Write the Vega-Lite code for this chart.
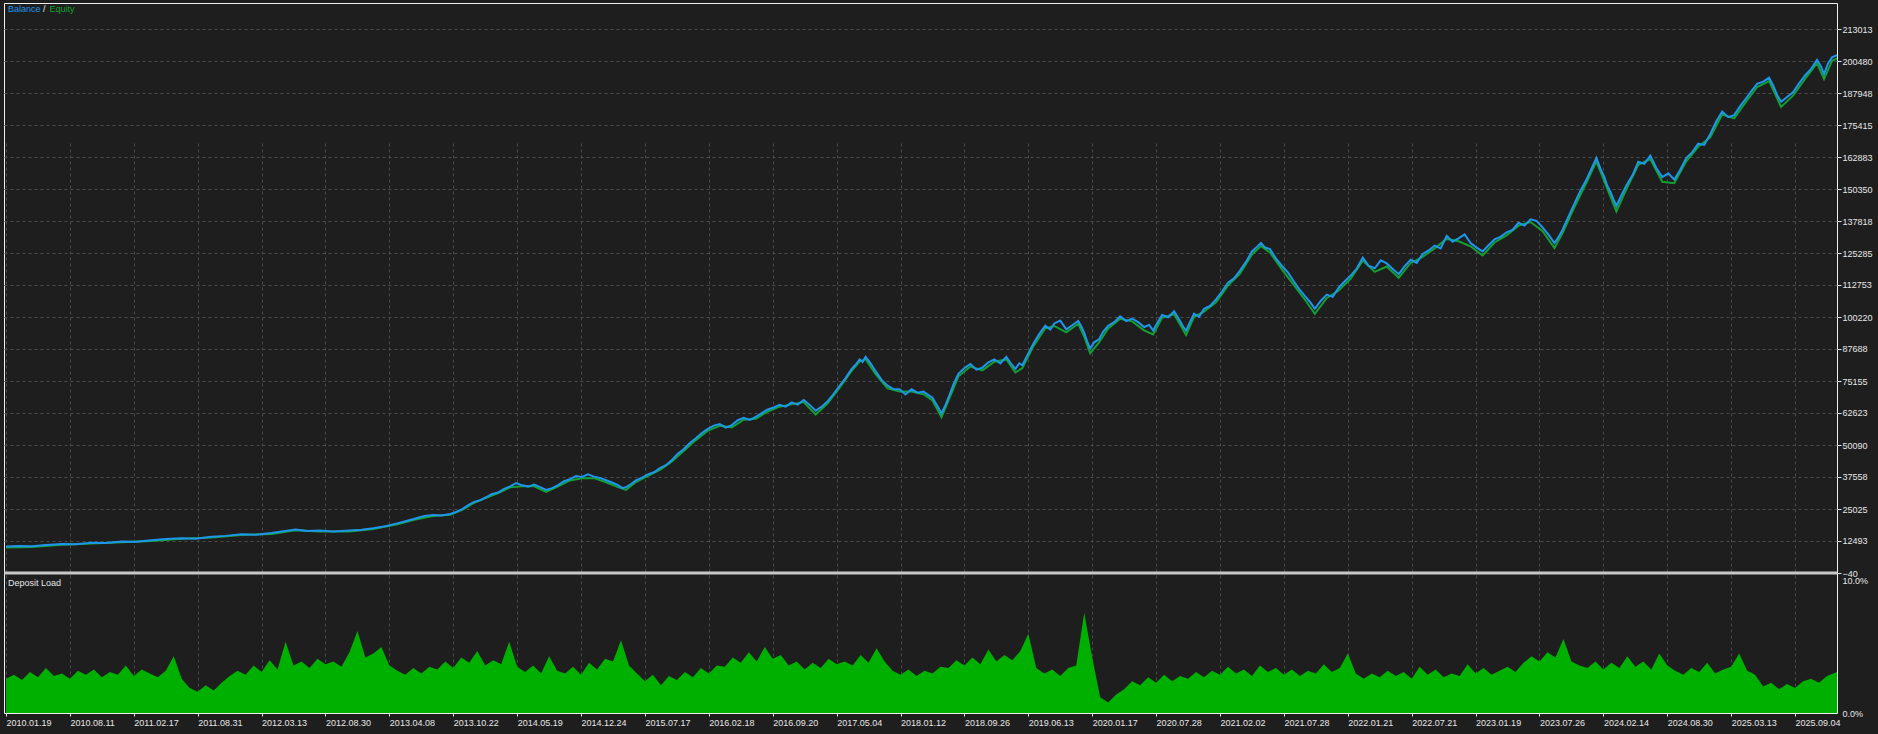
{
 "$schema": "https://vega.github.io/schema/vega-lite/v6.json",
 "width": 1878, "height": 734,
 "autosize": {"type": "fit", "contains": "padding"},
 "padding": {"left": 2, "top": 3, "right": 5, "bottom": 3},
 "background": "#1e1e1e",
 "config": {
  "view": {"stroke": "#f0f0f0", "strokeWidth": 1},
  "axis": {"domain": false, "labelFont": "Liberation Sans", "labelFontSize": 9, "labelColor": "#e6e6e6", "labelOverlap": false, "labelBound": false, "labelFlush": false}
 },
 "datasets": {
  "bal": [
   {"i":0,"b":10300},{"i":13,"b":10500},{"i":26,"b":10400},{"i":40,"b":10900},{"i":56,"b":11300},{"i":70,"b":11200},{"i":86,"b":11800},{"i":100,"b":11700},{"i":116,"b":12300},{"i":130,"b":12200},{"i":146,"b":12800},{"i":160,"b":13300},{"i":176,"b":13600},{"i":190,"b":13400},{"i":206,"b":14200},{"i":220,"b":14500},{"i":236,"b":15100},{"i":250,"b":14900},{"i":266,"b":15600},{"i":278,"b":16300},{"i":290,"b":17000},{"i":302,"b":16400},{"i":314,"b":16600},{"i":328,"b":16200},{"i":344,"b":16600},{"i":356,"b":16900},{"i":368,"b":17500},{"i":380,"b":18300},{"i":392,"b":19400},{"i":401,"b":20300},{"i":410,"b":21300},{"i":419,"b":22300},{"i":428,"b":22700},{"i":436,"b":22500},{"i":445,"b":23100},{"i":451,"b":23900},{"i":457,"b":25000},{"i":463,"b":26500},{"i":469,"b":27800},{"i":475,"b":28500},{"i":481,"b":29700},{"i":487,"b":30900},{"i":493,"b":31500},{"i":499,"b":32900},{"i":505,"b":33900},{"i":511,"b":35200},{"i":517,"b":34300},{"i":523,"b":33800},{"i":529,"b":34600},{"i":535,"b":33600},{"i":541,"b":32500},{"i":547,"b":33200},{"i":553,"b":34400},{"i":559,"b":35900},{"i":565,"b":36700},{"i":571,"b":37900},{"i":577,"b":37600},{"i":583,"b":38600},{"i":589,"b":37700},{"i":595,"b":37200},{"i":601,"b":36300},{"i":607,"b":35400},{"i":613,"b":34400},{"i":617,"b":33300},{"i":621,"b":33500},{"i":626,"b":34800},{"i":631,"b":36200},{"i":637,"b":37300},{"i":643,"b":38600},{"i":649,"b":39400},{"i":655,"b":41000},{"i":661,"b":42200},{"i":667,"b":44200},{"i":673,"b":46700},{"i":679,"b":48500},{"i":685,"b":50900},{"i":691,"b":52700},{"i":697,"b":54800},{"i":703,"b":56400},{"i":709,"b":57700},{"i":715,"b":58300},{"i":721,"b":56900},{"i":727,"b":57900},{"i":733,"b":59800},{"i":739,"b":60700},{"i":745,"b":59900},{"i":751,"b":61100},{"i":757,"b":62600},{"i":763,"b":64000},{"i":769,"b":64800},{"i":775,"b":65800},{"i":781,"b":65100},{"i":787,"b":66800},{"i":793,"b":65900},{"i":799,"b":67700},{"i":805,"b":65800},{"i":811,"b":63500},{"i":817,"b":65100},{"i":823,"b":67200},{"i":829,"b":70100},{"i":835,"b":73300},{"i":841,"b":76300},{"i":847,"b":79900},{"i":851,"b":81500},{"i":855,"b":83600},{"i":858,"b":82600},{"i":861,"b":84600},{"i":866,"b":82100},{"i":871,"b":79000},{"i":877,"b":75600},{"i":883,"b":73300},{"i":889,"b":72000},{"i":895,"b":71900},{"i":901,"b":69900},{"i":907,"b":71900},{"i":913,"b":70600},{"i":919,"b":71000},{"i":924,"b":69600},{"i":928,"b":68600},{"i":932,"b":66000},{"i":937,"b":62500},{"i":941,"b":65700},{"i":945,"b":69600},{"i":949,"b":73800},{"i":954,"b":78000},{"i":960,"b":80200},{"i":966,"b":81800},{"i":972,"b":79600},{"i":978,"b":80400},{"i":984,"b":82500},{"i":990,"b":83600},{"i":996,"b":82000},{"i":1002,"b":84600},{"i":1006,"b":82300},{"i":1011,"b":79900},{"i":1015,"b":82100},{"i":1018,"b":81300},{"i":1023,"b":85200},{"i":1029,"b":89700},{"i":1035,"b":93600},{"i":1041,"b":96800},{"i":1046,"b":95300},{"i":1050,"b":97700},{"i":1056,"b":98800},{"i":1062,"b":95400},{"i":1068,"b":97000},{"i":1074,"b":98700},{"i":1077,"b":96600},{"i":1080,"b":94000},{"i":1083,"b":90600},{"i":1086,"b":87900},{"i":1090,"b":90300},{"i":1095,"b":91600},{"i":1099,"b":94500},{"i":1104,"b":96800},{"i":1110,"b":98200},{"i":1116,"b":100500},{"i":1122,"b":98600},{"i":1128,"b":99600},{"i":1134,"b":98200},{"i":1140,"b":96300},{"i":1145,"b":97100},{"i":1149,"b":94900},{"i":1153,"b":97800},{"i":1158,"b":101000},{"i":1164,"b":100100},{"i":1170,"b":102400},{"i":1173,"b":100600},{"i":1176,"b":98700},{"i":1179,"b":96500},{"i":1182,"b":94900},{"i":1186,"b":98300},{"i":1190,"b":101500},{"i":1195,"b":100300},{"i":1200,"b":103400},{"i":1206,"b":104600},{"i":1212,"b":107100},{"i":1218,"b":110200},{"i":1224,"b":113700},{"i":1230,"b":115400},{"i":1236,"b":118400},{"i":1242,"b":121800},{"i":1248,"b":125900},{"i":1252,"b":127300},{"i":1257,"b":129200},{"i":1261,"b":127500},{"i":1266,"b":126800},{"i":1272,"b":123200},{"i":1278,"b":120200},{"i":1284,"b":117700},{"i":1290,"b":114100},{"i":1296,"b":110800},{"i":1302,"b":108000},{"i":1306,"b":106200},{"i":1311,"b":103400},{"i":1317,"b":106600},{"i":1323,"b":109000},{"i":1329,"b":108100},{"i":1335,"b":111800},{"i":1341,"b":114200},{"i":1347,"b":116500},{"i":1353,"b":119200},{"i":1359,"b":123500},{"i":1365,"b":120200},{"i":1371,"b":119300},{"i":1377,"b":122400},{"i":1383,"b":121200},{"i":1389,"b":119000},{"i":1395,"b":117000},{"i":1401,"b":120100},{"i":1407,"b":122600},{"i":1413,"b":121400},{"i":1419,"b":124900},{"i":1425,"b":126300},{"i":1431,"b":128200},{"i":1437,"b":127100},{"i":1443,"b":132000},{"i":1449,"b":129700},{"i":1455,"b":131000},{"i":1461,"b":132600},{"i":1467,"b":129200},{"i":1473,"b":127400},{"i":1479,"b":125900},{"i":1485,"b":128300},{"i":1491,"b":130600},{"i":1497,"b":131600},{"i":1503,"b":133400},{"i":1509,"b":134300},{"i":1515,"b":137100},{"i":1521,"b":136000},{"i":1527,"b":138500},{"i":1533,"b":137900},{"i":1539,"b":135300},{"i":1545,"b":132500},{"i":1551,"b":129200},{"i":1555,"b":131500},{"i":1559,"b":134300},{"i":1565,"b":139500},{"i":1571,"b":144600},{"i":1577,"b":149700},{"i":1583,"b":154000},{"i":1588,"b":158200},{"i":1593,"b":162500},{"i":1597,"b":158300},{"i":1601,"b":155000},{"i":1604,"b":151500},{"i":1607,"b":149300},{"i":1610,"b":146400},{"i":1613,"b":143700},{"i":1618,"b":147800},{"i":1623,"b":151700},{"i":1629,"b":155600},{"i":1635,"b":161000},{"i":1641,"b":160200},{"i":1647,"b":163400},{"i":1653,"b":158600},{"i":1659,"b":155000},{"i":1665,"b":156500},{"i":1671,"b":154000},{"i":1677,"b":157900},{"i":1683,"b":162500},{"i":1689,"b":164800},{"i":1695,"b":168100},{"i":1701,"b":167600},{"i":1707,"b":171800},{"i":1713,"b":176800},{"i":1719,"b":180700},{"i":1725,"b":178500},{"i":1731,"b":179300},{"i":1737,"b":182800},{"i":1743,"b":185900},{"i":1748,"b":188600},{"i":1754,"b":191500},{"i":1760,"b":192400},{"i":1766,"b":193900},{"i":1770,"b":190900},{"i":1774,"b":187200},{"i":1778,"b":184500},{"i":1784,"b":186400},{"i":1790,"b":188200},{"i":1796,"b":191700},{"i":1802,"b":194800},{"i":1808,"b":197400},{"i":1814,"b":200900},{"i":1818,"b":198300},{"i":1821,"b":195300},{"i":1825,"b":199500},{"i":1829,"b":201900},{"i":1834,"b":202800}
  ],
  "eq": [
   {"i":0,"e":9950},{"i":26,"e":10120},{"i":56,"e":11060},{"i":86,"e":11530},{"i":116,"e":12000},{"i":146,"e":12470},{"i":176,"e":13400},{"i":206,"e":13870},{"i":236,"e":14810},{"i":266,"e":15280},{"i":290,"e":16690},{"i":314,"e":16220},{"i":344,"e":16220},{"i":368,"e":17160},{"i":392,"e":19030},{"i":410,"e":20910},{"i":428,"e":22320},{"i":445,"e":22790},{"i":457,"e":24660},{"i":469,"e":27480},{"i":481,"e":29360},{"i":493,"e":31240},{"i":505,"e":33500},{"i":517,"e":33900},{"i":529,"e":33900},{"i":541,"e":31700},{"i":553,"e":33900},{"i":565,"e":36200},{"i":577,"e":37100},{"i":589,"e":37100},{"i":601,"e":35500},{"i":613,"e":33600},{"i":621,"e":32500},{"i":631,"e":35600},{"i":643,"e":38000},{"i":655,"e":40300},{"i":667,"e":43600},{"i":679,"e":47800},{"i":691,"e":52000},{"i":703,"e":55700},{"i":715,"e":57600},{"i":727,"e":57000},{"i":739,"e":60000},{"i":751,"e":60400},{"i":763,"e":63200},{"i":775,"e":65100},{"i":787,"e":66000},{"i":799,"e":66900},{"i":811,"e":62000},{"i":823,"e":66400},{"i":835,"e":72500},{"i":847,"e":79100},{"i":855,"e":82800},{"i":861,"e":83700},{"i":871,"e":77800},{"i":883,"e":72300},{"i":895,"e":71000},{"i":907,"e":71000},{"i":919,"e":70000},{"i":928,"e":67500},{"i":937,"e":61000},{"i":945,"e":68500},{"i":954,"e":77000},{"i":966,"e":80800},{"i":978,"e":79300},{"i":990,"e":82700},{"i":1002,"e":83600},{"i":1011,"e":78500},{"i":1018,"e":80200},{"i":1029,"e":88700},{"i":1041,"e":95800},{"i":1050,"e":96700},{"i":1062,"e":94200},{"i":1074,"e":97600},{"i":1080,"e":92500},{"i":1086,"e":86000},{"i":1095,"e":90400},{"i":1104,"e":95700},{"i":1116,"e":99500},{"i":1128,"e":98500},{"i":1140,"e":95000},{"i":1149,"e":93400},{"i":1158,"e":99900},{"i":1170,"e":101300},{"i":1176,"e":97300},{"i":1182,"e":93200},{"i":1190,"e":100300},{"i":1200,"e":102300},{"i":1212,"e":106000},{"i":1224,"e":112500},{"i":1236,"e":117200},{"i":1248,"e":124700},{"i":1257,"e":128000},{"i":1266,"e":125500},{"i":1278,"e":118900},{"i":1290,"e":112700},{"i":1302,"e":106500},{"i":1311,"e":101500},{"i":1323,"e":107700},{"i":1335,"e":110600},{"i":1347,"e":115300},{"i":1359,"e":122300},{"i":1371,"e":117900},{"i":1383,"e":120000},{"i":1395,"e":115600},{"i":1407,"e":121400},{"i":1419,"e":123800},{"i":1431,"e":127100},{"i":1443,"e":130800},{"i":1455,"e":129900},{"i":1467,"e":127900},{"i":1479,"e":124300},{"i":1491,"e":129400},{"i":1503,"e":132200},{"i":1515,"e":136000},{"i":1527,"e":137400},{"i":1539,"e":133900},{"i":1551,"e":127200},{"i":1559,"e":133000},{"i":1571,"e":143300},{"i":1583,"e":152800},{"i":1593,"e":161200},{"i":1601,"e":153300},{"i":1607,"e":147500},{"i":1613,"e":141600},{"i":1623,"e":150200},{"i":1635,"e":159800},{"i":1647,"e":162100},{"i":1659,"e":153200},{"i":1671,"e":152600},{"i":1683,"e":161200},{"i":1695,"e":166900},{"i":1707,"e":170600},{"i":1719,"e":179500},{"i":1731,"e":178000},{"i":1743,"e":184600},{"i":1754,"e":190300},{"i":1766,"e":192600},{"i":1778,"e":182500},{"i":1790,"e":186900},{"i":1802,"e":193500},{"i":1814,"e":199600},{"i":1821,"e":193400},{"i":1829,"e":200500},{"i":1834,"e":201500}
  ],
  "load": [
   {"i":0,"d":2.6},{"i":8,"d":2.9},{"i":16,"d":2.5},{"i":24,"d":3.1},{"i":32,"d":2.7},{"i":40,"d":3.4},{"i":48,"d":2.8},{"i":56,"d":3.0},{"i":64,"d":2.6},{"i":72,"d":3.2},
   {"i":80,"d":2.9},{"i":88,"d":3.3},{"i":96,"d":2.7},{"i":104,"d":3.1},{"i":112,"d":2.9},{"i":120,"d":3.6},{"i":128,"d":2.8},{"i":136,"d":3.3},{"i":144,"d":3.0},{"i":152,"d":2.7},
   {"i":160,"d":3.2},{"i":168,"d":4.3},{"i":176,"d":2.6},{"i":184,"d":1.9},{"i":192,"d":1.6},{"i":200,"d":2.1},{"i":208,"d":1.7},{"i":216,"d":2.3},{"i":224,"d":2.8},{"i":232,"d":3.2},
   {"i":240,"d":2.9},{"i":248,"d":3.6},{"i":256,"d":3.1},{"i":264,"d":4.0},{"i":272,"d":3.3},{"i":280,"d":5.4},{"i":288,"d":3.6},{"i":296,"d":3.9},{"i":304,"d":3.4},{"i":312,"d":4.1},
   {"i":320,"d":3.7},{"i":328,"d":3.9},{"i":336,"d":3.5},{"i":344,"d":4.6},{"i":352,"d":6.2},{"i":360,"d":4.2},{"i":368,"d":4.5},{"i":376,"d":5.0},{"i":384,"d":3.6},{"i":392,"d":3.2},
   {"i":400,"d":2.9},{"i":408,"d":3.4},{"i":416,"d":3.0},{"i":424,"d":3.5},{"i":432,"d":3.3},{"i":440,"d":3.9},{"i":448,"d":3.4},{"i":456,"d":4.2},{"i":464,"d":3.8},{"i":472,"d":4.7},
   {"i":480,"d":3.6},{"i":488,"d":4.0},{"i":496,"d":3.7},{"i":504,"d":5.4},{"i":512,"d":3.5},{"i":520,"d":3.1},{"i":528,"d":3.6},{"i":536,"d":3.0},{"i":544,"d":4.3},{"i":552,"d":3.2},
   {"i":560,"d":3.0},{"i":568,"d":3.5},{"i":576,"d":2.9},{"i":584,"d":3.8},{"i":592,"d":3.3},{"i":600,"d":4.1},{"i":608,"d":3.9},{"i":616,"d":5.5},{"i":624,"d":3.6},{"i":632,"d":3.0},
   {"i":640,"d":2.4},{"i":648,"d":2.9},{"i":656,"d":2.1},{"i":664,"d":2.8},{"i":672,"d":2.5},{"i":680,"d":3.1},{"i":688,"d":2.7},{"i":696,"d":3.4},{"i":704,"d":3.0},{"i":712,"d":3.6},
   {"i":720,"d":3.5},{"i":728,"d":4.2},{"i":736,"d":3.8},{"i":744,"d":4.6},{"i":752,"d":3.9},{"i":760,"d":5.0},{"i":768,"d":4.1},{"i":776,"d":4.4},{"i":784,"d":3.6},{"i":792,"d":3.9},
   {"i":800,"d":3.3},{"i":808,"d":3.8},{"i":816,"d":3.4},{"i":824,"d":4.1},{"i":832,"d":3.7},{"i":840,"d":3.9},{"i":848,"d":3.6},{"i":856,"d":4.4},{"i":864,"d":3.8},{"i":872,"d":4.9},
   {"i":880,"d":3.9},{"i":888,"d":3.2},{"i":896,"d":2.9},{"i":904,"d":3.3},{"i":912,"d":2.8},{"i":920,"d":3.2},{"i":928,"d":3.0},{"i":936,"d":3.5},{"i":944,"d":3.4},{"i":952,"d":4.0},
   {"i":960,"d":3.6},{"i":968,"d":4.2},{"i":976,"d":3.7},{"i":984,"d":4.8},{"i":992,"d":3.9},{"i":1000,"d":4.4},{"i":1008,"d":4.0},{"i":1016,"d":4.7},{"i":1024,"d":6.0},{"i":1032,"d":3.4},
   {"i":1040,"d":3.0},{"i":1048,"d":3.3},{"i":1056,"d":2.8},{"i":1064,"d":3.4},{"i":1072,"d":3.6},{"i":1080,"d":7.6},{"i":1088,"d":4.2},{"i":1096,"d":1.2},{"i":1104,"d":0.8},{"i":1112,"d":1.4},
   {"i":1120,"d":1.8},{"i":1128,"d":2.4},{"i":1136,"d":2.1},{"i":1144,"d":2.7},{"i":1152,"d":2.3},{"i":1160,"d":2.9},{"i":1168,"d":2.4},{"i":1176,"d":2.8},{"i":1184,"d":2.6},{"i":1192,"d":3.1},
   {"i":1200,"d":2.7},{"i":1208,"d":3.2},{"i":1216,"d":2.9},{"i":1224,"d":3.5},{"i":1232,"d":3.0},{"i":1240,"d":3.3},{"i":1248,"d":2.8},{"i":1256,"d":3.6},{"i":1264,"d":3.1},{"i":1272,"d":3.4},
   {"i":1280,"d":2.9},{"i":1288,"d":3.3},{"i":1296,"d":2.8},{"i":1304,"d":3.2},{"i":1312,"d":3.0},{"i":1320,"d":3.7},{"i":1328,"d":3.1},{"i":1336,"d":3.4},{"i":1344,"d":4.5},{"i":1352,"d":3.0},
   {"i":1360,"d":2.6},{"i":1368,"d":3.0},{"i":1376,"d":2.7},{"i":1384,"d":3.2},{"i":1392,"d":2.8},{"i":1400,"d":3.1},{"i":1408,"d":2.6},{"i":1416,"d":3.5},{"i":1424,"d":2.9},{"i":1432,"d":3.3},
   {"i":1440,"d":2.7},{"i":1448,"d":3.0},{"i":1456,"d":2.8},{"i":1464,"d":3.7},{"i":1472,"d":3.0},{"i":1480,"d":3.4},{"i":1488,"d":2.9},{"i":1496,"d":3.2},{"i":1504,"d":3.5},{"i":1512,"d":3.1},
   {"i":1520,"d":3.8},{"i":1528,"d":4.3},{"i":1536,"d":3.9},{"i":1544,"d":4.6},{"i":1552,"d":4.2},{"i":1560,"d":5.6},{"i":1568,"d":3.9},{"i":1576,"d":3.6},{"i":1584,"d":3.4},{"i":1592,"d":3.9},
   {"i":1600,"d":3.3},{"i":1608,"d":3.8},{"i":1616,"d":3.4},{"i":1624,"d":4.3},{"i":1632,"d":3.5},{"i":1640,"d":3.9},{"i":1648,"d":3.3},{"i":1656,"d":4.5},{"i":1664,"d":3.6},{"i":1672,"d":3.2},
   {"i":1680,"d":2.9},{"i":1688,"d":3.4},{"i":1696,"d":3.1},{"i":1704,"d":3.8},{"i":1712,"d":3.0},{"i":1720,"d":3.3},{"i":1728,"d":3.5},{"i":1736,"d":4.5},{"i":1744,"d":3.2},{"i":1752,"d":2.9},
   {"i":1760,"d":2.0},{"i":1768,"d":2.3},{"i":1776,"d":1.8},{"i":1784,"d":2.2},{"i":1792,"d":1.9},{"i":1800,"d":2.4},{"i":1808,"d":2.6},{"i":1816,"d":2.3},{"i":1824,"d":2.8},{"i":1834,"d":3.1}
  ]
 },
 "layer": [
  {
   "layer": [
    {
     "data": {"name": "eq"},
     "mark": {"type": "line", "color": "#12a032", "strokeWidth": 2},
     "encoding": {
      "x": {"field": "i", "type": "quantitative", "title": null,
       "scale": {"domain": [-2, 1834], "nice": false, "zero": false},
       "axis": {
        "values": [0,32,64,96,128,160,192,224,256,288,320,352,384,416,448,480,512,544,576,608,640,672,704,736,768,800,832,864,896,928,960,992,1024,1056,1088,1120,1152,1184,1216,1248,1280,1312,1344,1376,1408,1440,1472,1504,1536,1568,1600,1632,1664,1696,1728,1760,1792,1824],
        "grid": true, "gridColor": "#4a4a4a", "gridDash": [3, 3], "gridWidth": 1,
        "ticks": true, "tickSize": 3,
        "tickColor": {"condition": {"test": "datum.value % 64 === 0", "value": "#e6e6e6"}, "value": "rgba(0,0,0,0)"},
        "labelExpr": "datum.value % 64 === 0 ? ['2010.01.19','2010.08.11','2011.02.17','2011.08.31','2012.03.13','2012.08.30','2013.04.08','2013.10.22','2014.05.19','2014.12.24','2015.07.17','2016.02.18','2016.09.20','2017.05.04','2018.01.12','2018.09.26','2019.06.13','2020.01.17','2020.07.28','2021.02.02','2021.07.28','2022.01.21','2022.07.21','2023.01.19','2023.07.26','2024.02.14','2024.08.30','2025.03.13','2025.09.04'][datum.value / 64] : ''",
        "labelAlign": "left", "labelBaseline": "top", "labelPadding": 2,
        "minExtent": 18, "maxExtent": 18
       }},
      "y": {"field": "e", "type": "quantitative", "title": null,
       "scale": {"domain": [-40, 223196], "range": [570, 0], "nice": false, "zero": false},
       "axis": {
        "orient": "right",
        "values": [-40,12493,25025,37558,50090,62623,75155,87688,100220,112753,125285,137818,150350,162883,175415,187948,200480,213013],
        "grid": true, "gridColor": "#4a4a4a", "gridDash": [3, 3], "gridWidth": 1,
        "ticks": true, "tickSize": 4, "tickColor": "#e6e6e6", "labelPadding": 1,
        "format": "d",
        "minExtent": 35, "maxExtent": 35
       }}
     }
    },
    {
     "data": {"name": "bal"},
     "mark": {"type": "line", "color": "#1e96ec", "strokeWidth": 2},
     "encoding": {
      "x": {"field": "i", "type": "quantitative"},
      "y": {"field": "b", "type": "quantitative"}
     }
    },
    {
     "data": {"values": [{}]},
     "mark": {"type": "rule", "color": "#c8c8c8", "strokeWidth": 3},
     "encoding": {"y": {"datum": -40}}
    },
    {
     "data": {"values": [{}]},
     "mark": {"type": "text", "text": "Balance", "color": "#1e96ec", "align": "left", "baseline": "middle", "font": "Liberation Sans", "fontSize": 9},
     "encoding": {"x": {"datum": 2}, "y": {"datum": 220845}}
    },
    {
     "data": {"values": [{}]},
     "mark": {"type": "text", "text": "/", "color": "#e6e6e6", "align": "left", "baseline": "middle", "font": "Liberation Sans", "fontSize": 9},
     "encoding": {"x": {"datum": 37}, "y": {"datum": 220845}}
    },
    {
     "data": {"values": [{}]},
     "mark": {"type": "text", "text": "Equity", "color": "#12a032", "align": "left", "baseline": "middle", "font": "Liberation Sans", "fontSize": 9},
     "encoding": {"x": {"datum": 43.5}, "y": {"datum": 220845}}
    }
   ]
  },
  {
   "data": {"name": "load"},
   "layer": [
    {
     "mark": {"type": "area", "color": "#00b000", "interpolate": "linear"},
     "encoding": {
      "x": {"field": "i", "type": "quantitative"},
      "y": {"field": "d", "type": "quantitative", "title": null,
       "scale": {"domain": [0, 10.45], "range": [710, 572], "nice": false, "zero": true},
       "axis": {
        "orient": "right", "values": [0, 10], "grid": false, "ticks": false,
        "labelExpr": "format(datum.value, '.1f') + '%'", "labelPadding": 5,
        "minExtent": 35, "maxExtent": 35
       }}
     }
    },
    {
     "data": {"values": [{}]},
     "mark": {"type": "text", "text": "Deposit Load", "color": "#e6e6e6", "align": "left", "baseline": "middle", "font": "Liberation Sans", "fontSize": 9},
     "encoding": {"x": {"datum": 2}, "y": {"datum": 9.84}}
    }
   ]
  }
 ],
 "resolve": {"scale": {"y": "independent"}, "axis": {"y": "independent"}}
}
